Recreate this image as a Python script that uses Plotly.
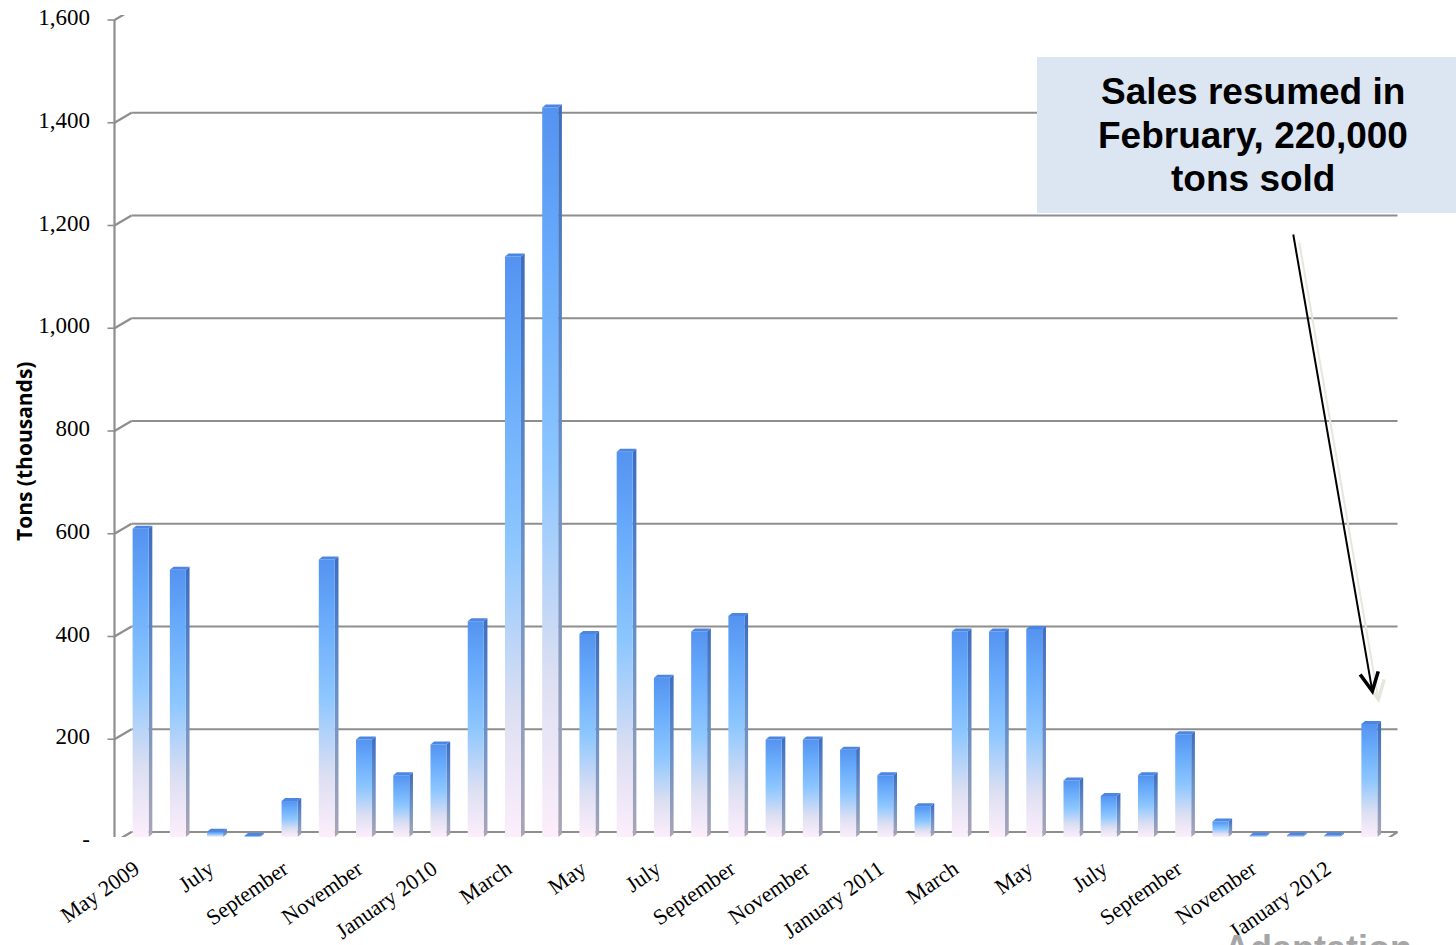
import plotly.graph_objects as go

# Monthly sales, thousands of tons, May 2009 - February 2012
months = [
    "May 2009", "Jun 2009", "Jul 2009", "Aug 2009", "Sep 2009", "Oct 2009",
    "Nov 2009", "Dec 2009", "Jan 2010", "Feb 2010", "Mar 2010", "Apr 2010",
    "May 2010", "Jun 2010", "Jul 2010", "Aug 2010", "Sep 2010", "Oct 2010",
    "Nov 2010", "Dec 2010", "Jan 2011", "Feb 2011", "Mar 2011", "Apr 2011",
    "May 2011", "Jun 2011", "Jul 2011", "Aug 2011", "Sep 2011", "Oct 2011",
    "Nov 2011", "Dec 2011", "Jan 2012", "Feb 2012",
]
tons = [
    600, 520, 10, 2, 70, 540, 190, 120, 180, 420, 1130, 1420,
    395, 750, 310, 400, 430, 190, 190, 170, 120, 60, 400, 400,
    405, 110, 80, 120, 200, 30, 3, 3, 3, 220,
]
x_tick_pos = [0, 2, 4, 6, 8, 10, 12, 14, 16, 18, 20, 22, 24, 26, 28, 30, 32]
x_tick_text = [
    "May 2009", "July", "September", "November", "January 2010", "March",
    "May", "July", "September", "November", "January 2011", "March",
    "May", "July", "September", "November", "January 2012",
]
y_tick_vals = [0, 200, 400, 600, 800, 1000, 1200, 1400, 1600]
y_tick_text = ["-", "200", "400", "600", "800", "1,000", "1,200", "1,400", "1,600"]
callout_lines = ["Sales resumed in", "February, 220,000", "tons sold"]

# ---- layout geometry --------------------------------------------------------
W, H = 1456, 945
ML, MR, MT, MB = 124, 66, 15, 108
PW = W - ML - MR
PH = H - MT - MB
N = len(tons)
Y_MAX = 1600
px_per_x = PW / N
px_per_y = PH / Y_MAX
DEPTH_X, DEPTH_Y = 7.5, 5.0          # half depth of the pseudo-3D box, px

# bar faces in data units
f_left = -10 / px_per_x
f_right = 6 / px_per_x
s_dx = 3.7 / px_per_x
t_dy = 3.0 / px_per_y

front_scale = [[0, "#fdeefb"], [0.22, "#dcdff2"], [0.5, "#8ec7ff"],
               [0.8, "#67aafb"], [1, "#5493f0"]]
side_scale = [[0, "#aaa6b6"], [0.5, "#6a90c6"], [1, "#3c6dc0"]]

fig = go.Figure()

for i, (m, v) in enumerate(zip(months, tons)):
    xl, xr = i + f_left, i + f_right
    # right side face
    fig.add_trace(go.Scatter(
        x=[xr, xr + s_dx, xr + s_dx, xr, xr],
        y=[0, t_dy, v + t_dy, v, 0],
        mode="lines", line=dict(width=0), fill="toself",
        fillgradient=dict(type="vertical", colorscale=side_scale),
        hoverinfo="skip", showlegend=False,
    ))
    # front face
    fig.add_trace(go.Scatter(
        x=[xl, xr, xr, xl, xl],
        y=[0, 0, v, v, 0],
        mode="lines", line=dict(width=0), fill="toself",
        fillgradient=dict(type="vertical", colorscale=front_scale),
        name=m, text=f"{m}: {v}", hoverinfo="text", showlegend=False,
    ))
    # top face
    fig.add_trace(go.Scatter(
        x=[xl, xr, xr + s_dx, xl + s_dx, xl],
        y=[v, v, v + t_dy, v + t_dy, v],
        mode="lines", line=dict(width=0), fill="toself",
        fillcolor="#4a86e2", hoverinfo="skip", showlegend=False,
    ))

shapes = []
GRID = "#8e8e8e"


def seg(xa, x0, x1, ya, y0, y1, color=GRID, width=2.2):
    shapes.append(dict(
        type="line", xref="paper", yref="y",
        xsizemode="pixel", xanchor=xa, x0=x0, x1=x1,
        ysizemode="pixel", yanchor=ya, y0=y0, y1=y1,
        line=dict(color=color, width=width), layer="below",
    ))


# back wall gridlines with their slanted joins to the axis
for v in y_tick_vals:
    seg(0, DEPTH_X, PW + DEPTH_X, v, DEPTH_Y, DEPTH_Y)
    seg(0, -DEPTH_X - 2, DEPTH_X, v, -DEPTH_Y, DEPTH_Y)
    seg(0, -DEPTH_X - 9, -DEPTH_X - 2, v, -DEPTH_Y, -DEPTH_Y, width=1.6)

# front edge of the floor and its right corner
seg(0, -DEPTH_X - 2, PW - DEPTH_X, 0, -DEPTH_Y, -DEPTH_Y)
seg(1, -DEPTH_X, DEPTH_X, 0, -DEPTH_Y, DEPTH_Y)
# vertical value axis
seg(0, -DEPTH_X - 2, -DEPTH_X - 2, 0, -DEPTH_Y, Y_MAX * px_per_y - DEPTH_Y)
# category ticks on the front edge
for k in range(N + 1):
    seg(k / N, -DEPTH_X, -DEPTH_X, 0, -DEPTH_Y, -DEPTH_Y - 7, width=1.6)

# callout box
shapes.append(dict(
    type="rect", xref="paper", yref="paper",
    x0=(1037 - ML) / PW, x1=(W - ML) / PW,
    y0=(H - MB - 213) / PH, y1=(H - MB - 57) / PH,
    fillcolor="#dce6f2", line=dict(width=0), layer="above",
))

annotations = []
for k, line in enumerate(callout_lines):
    annotations.append(dict(
        text=f"<b>{line}</b>", xref="paper", yref="paper",
        x=(1253 - ML) / PW, y=(H - MB - (91 + 44 * k)) / PH,
        xanchor="center", yanchor="middle", showarrow=False,
        font=dict(family="Liberation Sans, Arial", size=37, color="#000000"),
    ))

annotations += [
    # faint shadow of the pointer
    dict(
        text="", xref="paper", yref="paper",
        x=(1379 - ML) / PW, y=(H - MB - 703) / PH,
        ax=-80, ay=-462, showarrow=True,
        arrowhead=5, arrowsize=1.8, arrowwidth=2, arrowcolor="#e4e8dc",
    ),
    dict(
        text="", xref="paper", yref="paper",
        x=(1373 - ML) / PW, y=(H - MB - 695) / PH,
        ax=-80, ay=-462, showarrow=True,
        arrowhead=5, arrowsize=1.8, arrowwidth=2, arrowcolor="#000000",
    ),
    dict(
        text="<b>Tons (thousands)</b>", xref="paper", yref="paper",
        x=(24 - ML) / PW, y=(H - MB - 452) / PH,
        textangle=-90, showarrow=False, xanchor="center", yanchor="middle",
        font=dict(family="Open Sans, Liberation Sans", size=21, color="#000000"),
    ),
    dict(
        text="<b>Adaptation</b>", xref="paper", yref="paper",
        x=(1222 - ML) / PW, y=(H - MB - 926) / PH,
        xanchor="left", yanchor="top", showarrow=False,
        font=dict(family="Liberation Sans, Arial", size=36, color="#a6a6a6"),
    ),
]

fig.update_layout(
    width=W, height=H,
    margin=dict(l=ML, r=MR, t=MT, b=MB, pad=0, autoexpand=False),
    paper_bgcolor="#ffffff", plot_bgcolor="#ffffff",
    showlegend=False,
    shapes=shapes,
    annotations=annotations,
    xaxis=dict(
        range=[-0.5, N - 0.5], showgrid=False, zeroline=False, showline=False,
        tickmode="array", tickvals=x_tick_pos, ticktext=x_tick_text,
        tickangle=-35, ticks="", ticklabelstandoff=14, ticklabelshift=-8,
        tickfont=dict(family="Liberation Serif, Times New Roman", size=22,
                      color="#000000"),
        automargin=False, fixedrange=True,
    ),
    yaxis=dict(
        range=[0, Y_MAX], showgrid=False, zeroline=False, showline=False,
        tickmode="array", tickvals=y_tick_vals, ticktext=y_tick_text,
        ticks="", ticklabelstandoff=33, ticklabelshift=2,
        tickfont=dict(family="Liberation Serif, Times New Roman", size=23,
                      color="#000000"),
        automargin=False, fixedrange=True,
    ),
)

fig.write_html("out.html")
